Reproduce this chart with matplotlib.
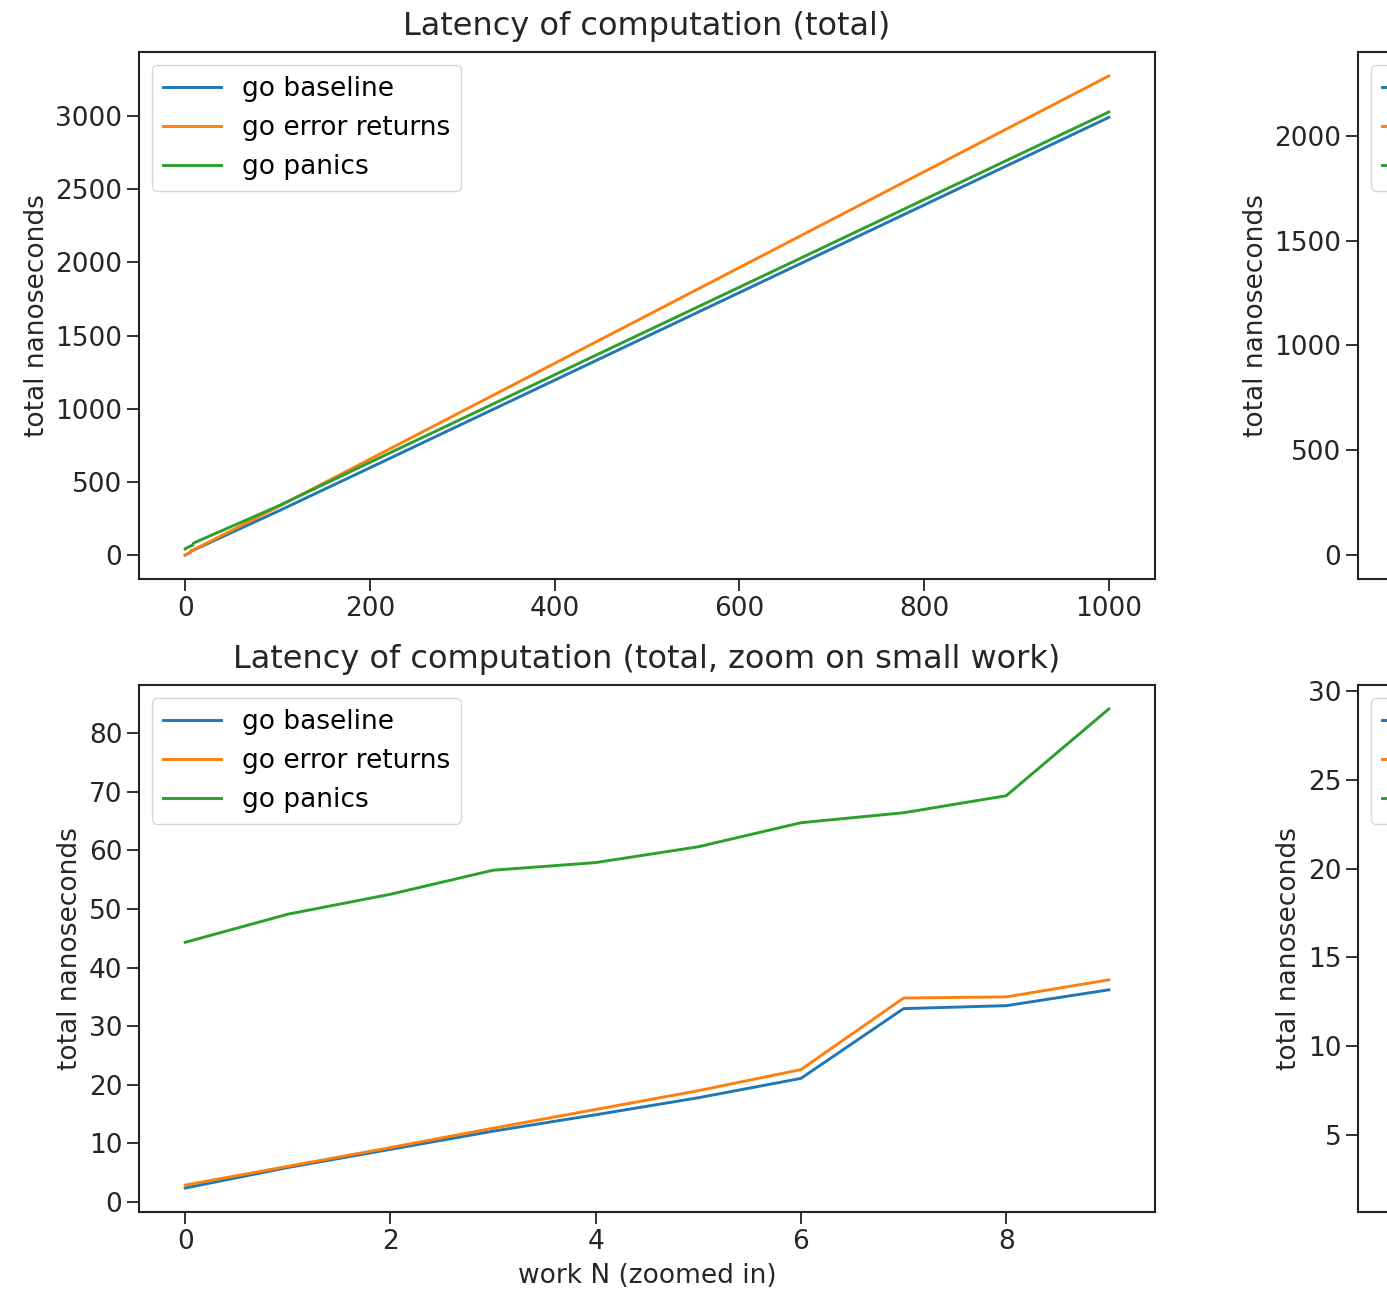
import matplotlib
matplotlib.use("Agg")
import matplotlib.pyplot as plt

# ---- data ----
labels = ["go baseline", "go error returns", "go panics"]
colors = ["#1f77b4", "#ff7f0e", "#2ca02c"]

n_small = [0, 1, 2, 3, 4, 5, 6, 7, 8, 9]
n_full = [0, 1, 2, 3, 4, 5, 6, 7, 8, 9, 100, 200, 300, 400, 500, 600, 700, 800, 900, 1000]

base_small = [2.4, 5.9, 9.0, 12.1, 14.9, 17.8, 21.1, 33.0, 33.5, 36.2]
err_small = [2.9, 6.1, 9.3, 12.6, 15.8, 19.0, 22.6, 34.8, 35.0, 37.9]
pan_small = [44.3, 49.1, 52.5, 56.6, 57.9, 60.6, 64.7, 66.4, 69.3, 84.1]

base_big = [300, 598, 897, 1196, 1495, 1794, 2093, 2392, 2691, 2990]
err_big = [330, 657, 984, 1311, 1638, 1965, 2292, 2619, 2946, 3273]
pan_big = [335, 635, 934, 1233, 1532, 1831, 2130, 2429, 2728, 3027]

# right column (lies almost entirely outside the visible crop)
r_base_big = [210, 420, 630, 840, 1050, 1260, 1470, 1680, 1890, 2100]
r_err_big = [229, 457, 686, 915, 1143, 1372, 1601, 1830, 2058, 2287]
r_pan_big = [216, 431, 646, 861, 1076, 1291, 1506, 1721, 1936, 2151]
r_base_small = [2.0, 4.1, 6.3, 8.4, 10.6, 12.8, 15.0, 23.1, 23.4, 25.3]
r_err_small = [2.2, 4.3, 6.6, 8.8, 11.1, 13.3, 15.8, 24.4, 24.5, 26.5]
r_pan_small = [3.1, 5.4, 7.8, 10.2, 12.5, 14.9, 17.2, 25.9, 26.8, 29.0]

# ---- figure ----
W, H = 1387, 1298
DPI = 100
plt.rcParams["font.family"] = ["DejaVu Sans"]
fig = plt.figure(figsize=(W / DPI, H / DPI), dpi=DPI)
fs = 19
TXT = "#262626"


def px_axes(left, top, right, bottom):
    return fig.add_axes([left / W, (H - bottom) / H, (right - left) / W, (bottom - top) / H])


def style(ax):
    ax.tick_params(labelsize=fs, length=8.5, width=1.3, colors="#222222", labelcolor=TXT)
    for s in ax.spines.values():
        s.set_linewidth(1.5)
        s.set_color("#222222")


def draw(ax, x, series, title=None, xlabel=None, visible_text=True):
    for ys, lab, c in zip(series, labels, colors):
        ax.plot(x, ys, color=c, lw=2.1, label=lab)
    ax.set_ylabel("total nanoseconds", fontsize=fs, color=TXT)
    if title:
        ax.set_title(title, fontsize=23, color=TXT, pad=12.5)
    if xlabel:
        ax.set_xlabel(xlabel, fontsize=fs, color=TXT, labelpad=6)
    style(ax)
    if visible_text:
        ax.legend(loc="upper left", fontsize=fs, handlelength=2.2, framealpha=0.8)
    else:
        # only the left edge of this legend falls inside the crop
        hs = ax.get_lines()
        ax.legend(hs, ["", "", ""], loc="upper left", fontsize=fs,
                  handlelength=2.2, framealpha=0.8)
        ax.tick_params(axis="x", labelbottom=False)


ax1 = px_axes(139, 52, 1155, 579)
draw(ax1, n_full, [base_small + base_big, err_small + err_big, pan_small + pan_big],
     title="Latency of computation (total)")

ax2 = px_axes(139, 685, 1155, 1212)
draw(ax2, n_small, [base_small, err_small, pan_small],
     title="Latency of computation (total, zoom on small work)", xlabel="work N (zoomed in)")

ax3 = px_axes(1358, 52, 2374, 579)
draw(ax3, n_full, [r_base_small + r_base_big, r_err_small + r_err_big, r_pan_small + r_pan_big],
     visible_text=False)
ax3.set_ylim(-115, 2401)

ax4 = px_axes(1358, 685, 2374, 1212)
draw(ax4, n_small, [r_base_small, r_err_small, r_pan_small], visible_text=False)

fig.savefig("out.png", dpi=DPI)
